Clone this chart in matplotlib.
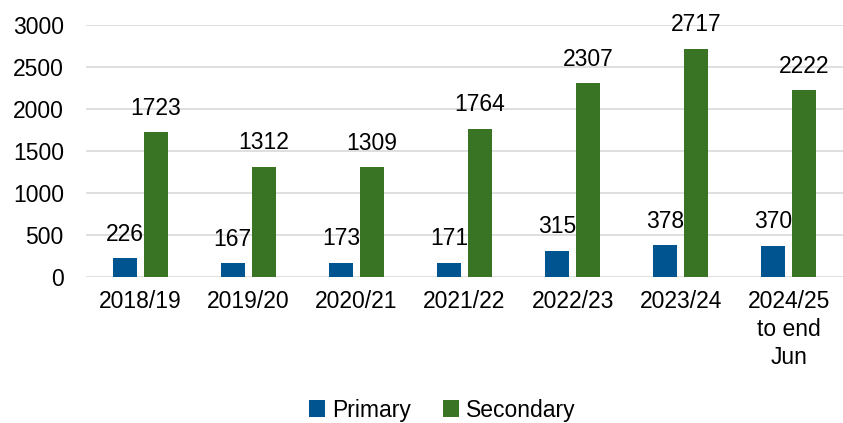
import matplotlib
matplotlib.use("Agg")
import matplotlib.pyplot as plt
import numpy as np

plt.rcParams['font.family'] = ['Liberation Sans', 'DejaVu Sans']

years = ['2018/19', '2019/20', '2020/21', '2021/22', '2022/23', '2023/24', '2024/25\nto end\nJun']
primary = [226, 167, 173, 171, 315, 378, 370]
secondary = [1723, 1312, 1309, 1764, 2307, 2717, 2222]

blue = '#005590'
green = '#387423'
fs = 16.5

fig = plt.figure(figsize=(8.43, 4.23), dpi=100)
ax = fig.add_axes([0.102, 0.345, 0.898, 0.596])

x = np.arange(len(years))
w = 0.222
off = 0.143
b1 = ax.bar(x - off, primary, w, color=blue, label='Primary', zorder=3)
b2 = ax.bar(x + off, secondary, w, color=green, label='Secondary', zorder=3)

for bars, vals in ((b1, primary), (b2, secondary)):
    for r, v in zip(bars, vals):
        ax.annotate(str(v), (r.get_x() + r.get_width() / 2, v), xytext=(0, 9),
                    textcoords='offset points', ha='center', va='bottom', fontsize=fs)

ax.set_xlim(-0.5, len(years) - 0.5)
ax.set_ylim(0, 3000)
ax.set_yticks(range(0, 3001, 500))
ax.yaxis.grid(True, color='#d9d9d9', linewidth=1.2, zorder=0)
for s in ax.spines.values():
    s.set_visible(False)
ax.tick_params(axis='both', length=0, labelsize=fs)
ax.tick_params(axis='y', pad=16)
ax.tick_params(axis='x', pad=9)
ax.set_xticks(x)
ax.set_xticklabels(years, linespacing=1.3)

fig.legend(handles=[b1, b2], loc='center', bbox_to_anchor=(0.525, 13 / 423), ncol=2, frameon=False,
           fontsize=fs, handlelength=0.7, handleheight=0.7, handletextpad=0.3, columnspacing=1.4)

fig.savefig('out.png', dpi=100)
